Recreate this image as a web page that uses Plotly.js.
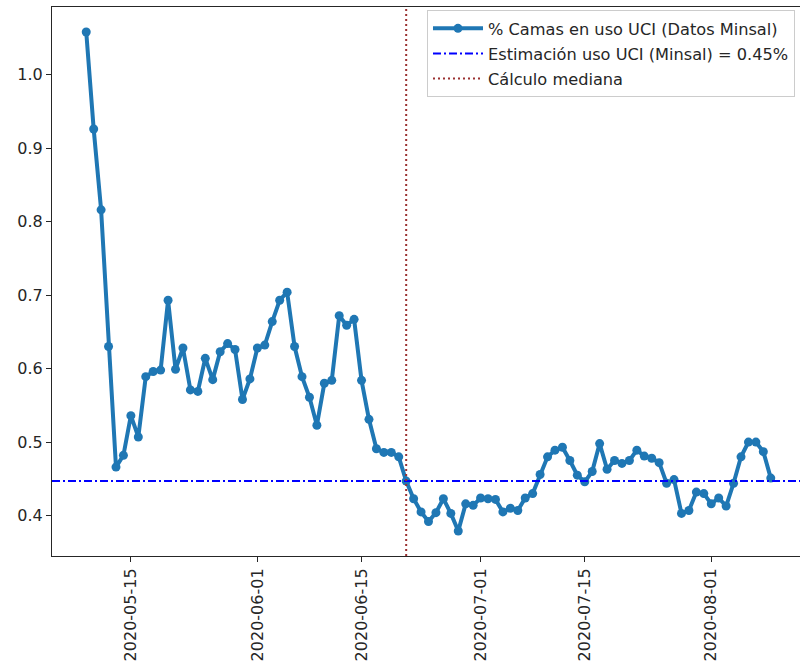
<!DOCTYPE html>
<html>
<head>
<meta charset="utf-8">
<script src="https://cdn.plot.ly/plotly-3.0.1.min.js"></script>
<style>
  html, body { margin: 0; padding: 0; background: #ffffff; overflow: hidden; }
  #chart { width: 801px; height: 667px; }
</style>
</head>
<body>
<div id="chart"></div>
<script>
// ---- Data ----
const dates = [
  "2020-05-09","2020-05-10","2020-05-11","2020-05-12","2020-05-13","2020-05-14","2020-05-15","2020-05-16",
  "2020-05-17","2020-05-18","2020-05-19","2020-05-20","2020-05-21","2020-05-22","2020-05-23","2020-05-24",
  "2020-05-25","2020-05-26","2020-05-27","2020-05-28","2020-05-29","2020-05-30","2020-05-31",
  "2020-06-01","2020-06-02","2020-06-03","2020-06-04","2020-06-05","2020-06-06","2020-06-07","2020-06-08",
  "2020-06-09","2020-06-10","2020-06-11","2020-06-12","2020-06-13","2020-06-14","2020-06-15","2020-06-16",
  "2020-06-17","2020-06-18","2020-06-19","2020-06-20","2020-06-21","2020-06-22","2020-06-23","2020-06-24",
  "2020-06-25","2020-06-26","2020-06-27","2020-06-28","2020-06-29","2020-06-30",
  "2020-07-01","2020-07-02","2020-07-03","2020-07-04","2020-07-05","2020-07-06","2020-07-07","2020-07-08",
  "2020-07-09","2020-07-10","2020-07-11","2020-07-12","2020-07-13","2020-07-14","2020-07-15","2020-07-16",
  "2020-07-17","2020-07-18","2020-07-19","2020-07-20","2020-07-21","2020-07-22","2020-07-23","2020-07-24",
  "2020-07-25","2020-07-26","2020-07-27","2020-07-28","2020-07-29","2020-07-30","2020-07-31",
  "2020-08-01","2020-08-02","2020-08-03","2020-08-04","2020-08-05","2020-08-06","2020-08-07","2020-08-08",
  "2020-08-09"
];
const camasUCI = [
  1.058, 0.926, 0.816, 0.630, 0.466, 0.482, 0.536, 0.507,
  0.589, 0.596, 0.598, 0.693, 0.599, 0.628, 0.571, 0.569,
  0.614, 0.585, 0.623, 0.634, 0.626, 0.558, 0.586,
  0.628, 0.632, 0.664, 0.693, 0.704, 0.630, 0.589, 0.561,
  0.523, 0.580, 0.584, 0.672, 0.659, 0.667, 0.584, 0.531,
  0.491, 0.486, 0.486, 0.480, 0.447, 0.423, 0.405, 0.392,
  0.404, 0.423, 0.403, 0.379, 0.416, 0.414,
  0.424, 0.423, 0.422, 0.405, 0.410, 0.407, 0.424, 0.430,
  0.456, 0.480, 0.489, 0.493, 0.475, 0.455, 0.446, 0.460,
  0.498, 0.463, 0.475, 0.471, 0.475, 0.489, 0.481, 0.478,
  0.472, 0.444, 0.449, 0.403, 0.407, 0.432, 0.430,
  0.416, 0.424, 0.413, 0.444, 0.480, 0.500, 0.500, 0.487,
  0.451
];
const estimacionMinsal = 0.447;
const fechaMediana = "2020-06-21";

const xTickVals = ["2020-05-15","2020-06-01","2020-06-15","2020-07-01","2020-07-15","2020-08-01"];
const xTickText = ["2020-05-15","2020-06-01","2020-06-15","2020-07-01","2020-07-15","2020-08-01"];
const yTickVals = [0.4, 0.5, 0.6, 0.7, 0.8, 0.9, 1.0];

const names = [
  "% Camas en uso UCI (Datos Minsal)",
  "Estimación uso UCI (Minsal) = 0.45%",
  "Cálculo mediana"
];

// ---- Axis ranges: matplotlib-like 5% margins; the original figure is
// cropped on the right, so only ~99.3% of the full axes width is visible ----
const t0 = Date.parse(dates[0] + "T00:00:00Z");
const t1 = Date.parse(dates[dates.length - 1] + "T00:00:00Z");
const xm = (t1 - t0) * 0.05;
const fullSpan = (t1 - t0) + 2 * xm;
const visibleFrac = 748 / 753;
function iso(t) { return new Date(t).toISOString().replace("T", " ").slice(0, 19); }
const ymin = Math.min(...camasUCI), ymax = Math.max(...camasUCI);
const ym = (ymax - ymin) * 0.05;

const blueMain = "#1f77b4";
const hColor = "#0000ff";
const vColor = "#9a3030";

const traces = [
  {
    x: dates, y: camasUCI, type: "scatter", mode: "lines+markers",
    name: names[0], legendgroup: "a",
    line: { color: blueMain, width: 4 },
    marker: { color: blueMain, size: 9 },
    hoverinfo: "x+y"
  },
  {
    x: [null], y: [null], type: "scatter", mode: "lines",
    name: names[1], legendgroup: "b",
    line: { color: hColor, width: 2, dash: "8px,3px,2px,3px" }
  },
  {
    x: [null], y: [null], type: "scatter", mode: "lines",
    name: names[2], legendgroup: "c",
    line: { color: vColor, width: 2, dash: "2px,3px" }
  }
];

const layout = {
  width: 801, height: 667,
  margin: { l: 52, r: 1, t: 7, b: 111, pad: 0 },
  paper_bgcolor: "#ffffff", plot_bgcolor: "#ffffff",
  font: { family: "DejaVu Sans, sans-serif", size: 16, color: "#262626" },
  showlegend: true,
  legend: {
    x: 0.9933, y: 0.994, xanchor: "right", yanchor: "top",
    bgcolor: "rgba(255,255,255,0.85)", bordercolor: "#cccccc", borderwidth: 1,
    font: { family: "DejaVu Sans, sans-serif", size: 16.2, color: "#262626" },
    itemwidth: 50, tracegroupgap: 1,
    entrywidthmode: "pixels", entrywidth: 316
  },
  xaxis: {
    type: "date",
    range: [iso(t0 - xm), iso(t0 - xm + fullSpan * visibleFrac)],
    tickmode: "array", tickvals: xTickVals, ticktext: xTickText,
    tickangle: -90,
    ticks: "outside", ticklen: 5, tickwidth: 1, tickcolor: "#262626",
    showgrid: false, zeroline: false,
    showline: true, linecolor: "#262626", linewidth: 1, mirror: true,
    tickfont: { size: 16 }
  },
  yaxis: {
    range: [ymin - ym, ymax + ym],
    tickmode: "array", tickvals: yTickVals, tickformat: ".1f",
    ticks: "outside", ticklen: 5, tickwidth: 1, tickcolor: "#262626",
    showgrid: false, zeroline: false,
    showline: true, linecolor: "#262626", linewidth: 1, mirror: false,
    tickfont: { size: 16 }
  },
  shapes: [
    {
      type: "line", xref: "paper", x0: 0, x1: 1, yref: "y", y0: estimacionMinsal, y1: estimacionMinsal,
      line: { color: hColor, width: 2, dash: "8px,3px,2px,3px" }, layer: "above"
    },
    {
      type: "line", xref: "x", x0: fechaMediana, x1: fechaMediana, yref: "paper", y0: 0, y1: 1,
      line: { color: vColor, width: 2, dash: "2px,3px" }, layer: "above"
    }
  ]
};

Plotly.newPlot("chart", traces, layout, { displayModeBar: false, staticPlot: true });
</script>
</body>
</html>
